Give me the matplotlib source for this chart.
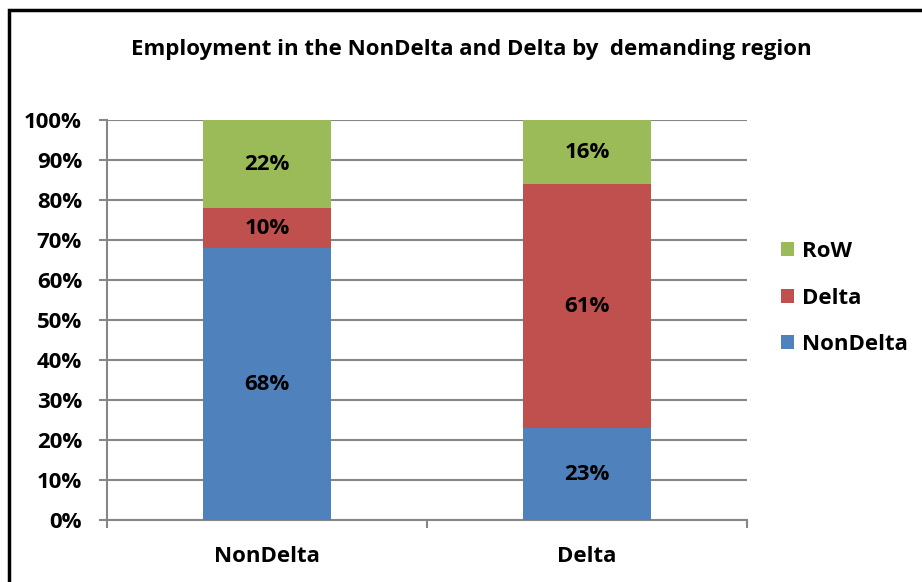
import matplotlib.pyplot as plt
from matplotlib.patches import Rectangle

plt.rcParams["font.family"] = ["Open Sans", "DejaVu Sans"]
plt.rcParams["font.weight"] = "bold"

# data
regions = ["NonDelta", "Delta"]
nondelta = [68, 23]
delta = [10, 61]
row = [22, 16]
series = [("NonDelta", nondelta, "#4F81BD"),
          ("Delta", delta, "#C0504D"),
          ("RoW", row, "#9BBB59")]
yticks = list(range(0, 101, 10))

FS = 16

fig = plt.figure(figsize=(9.22, 5.82), dpi=100)
ax = fig.add_axes([107 / 922, 1 - 520 / 582, 640 / 922, 400 / 582])

x = list(range(len(regions)))
bottom = [0, 0]
handles = []
for name, vals, col in series:
    bars = ax.bar(x, vals, width=0.4, bottom=bottom, color=col, zorder=3)
    for xi, v, b in zip(x, vals, bottom):
        ax.text(xi, b + v / 2, f"{v}%", ha="center", va="center",
                fontsize=FS, fontweight="bold", color="black", zorder=4)
    bottom = [b + v for b, v in zip(bottom, vals)]
    handles.append(bars)

ax.set_xlim(-0.5, 1.5)
ax.set_ylim(0, 100)
ax.set_yticks(yticks)
ax.set_yticklabels([f"{t}%" for t in yticks], fontsize=FS, fontweight="bold")
ax.set_xticks(x)
ax.set_xticklabels(regions, fontsize=FS, fontweight="bold")
ax.set_xticks([-0.5, 0.5, 1.5], minor=True)
ax.tick_params(axis="x", which="major", length=0, pad=19)
ax.tick_params(axis="x", which="minor", length=6, color="#868686", width=1.5)
ax.tick_params(axis="y", length=6, color="#868686", width=1.5, pad=12)

ax.yaxis.grid(True, color="#868686", lw=1.5, zorder=1)
for s in ["top", "right"]:
    ax.spines[s].set_visible(False)
for s in ["left", "bottom"]:
    ax.spines[s].set_color("#868686")
    ax.spines[s].set_linewidth(1.5)

fig.text(471 / 922, 1 - 49 / 582,
         "Employment in the NonDelta and Delta by  demanding region",
         ha="center", va="center", fontsize=FS, fontweight="bold")

# legend (RoW on top)
leg = fig.legend([handles[2], handles[1], handles[0]], ["RoW", "Delta", "NonDelta"],
                 loc="center left", bbox_to_anchor=(761 / 922, 1 - 298 / 582),
                 frameon=False, fontsize=FS, handlelength=0.6, handleheight=0.6,
                 handletextpad=0.35, labelspacing=1.15)

# outer chart frame
fig.add_artist(Rectangle((9 / 922, -0.1), 1.2, 1 - 10 / 582 + 0.1,
                         transform=fig.transFigure, fill=False,
                         edgecolor="black", lw=2.5))

fig.savefig("out.png", dpi=100)
